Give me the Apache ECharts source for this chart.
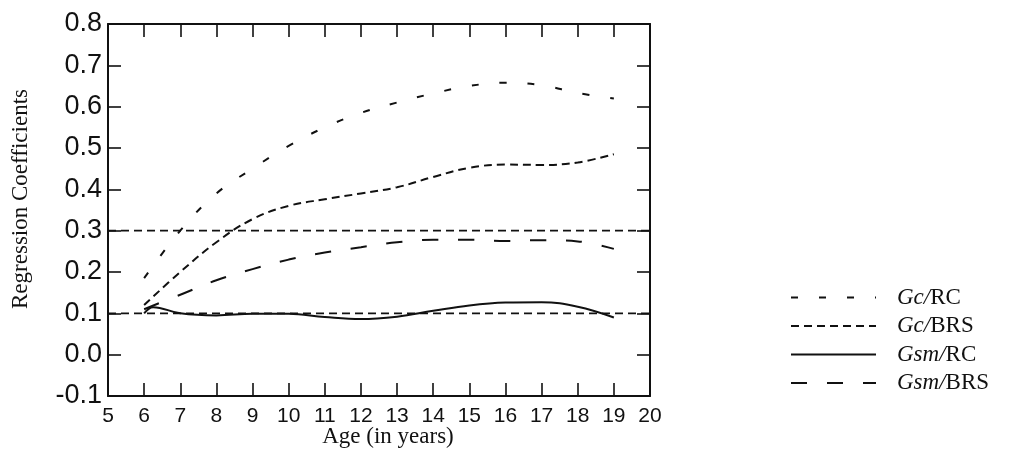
<!DOCTYPE html>
<html>
<head>
<meta charset="utf-8">
<script src="https://cdn.jsdelivr.net/npm/echarts@6/dist/echarts.min.js"></script>
<style>html,body{margin:0;padding:0;background:#fff;}#chart{width:1017px;height:452px;}</style>
</head>
<body>
<div id="chart"></div>
<script>
// ---- data ----
var ages = [6, 7, 8, 9, 10, 11, 12, 13, 14, 15, 16, 17, 18, 19];
var gcRC   = [0.185, 0.30, 0.39, 0.45, 0.505, 0.55, 0.585, 0.61, 0.632, 0.65, 0.658, 0.652, 0.633, 0.62];
var gcBRS  = [0.12, 0.20, 0.272, 0.328, 0.36, 0.376, 0.39, 0.405, 0.43, 0.452, 0.46, 0.459, 0.465, 0.485];
var gsmBRS = [0.11, 0.145, 0.18, 0.207, 0.23, 0.247, 0.26, 0.272, 0.278, 0.278, 0.275, 0.277, 0.274, 0.256];
var gsmRCAges = [6, 6.25, 7, 8, 9, 10, 11, 12, 13, 14, 15, 16, 17, 18, 19];
var gsmRC  = [0.10, 0.115, 0.10, 0.095, 0.099, 0.099, 0.091, 0.086, 0.092, 0.106, 0.119, 0.126, 0.127, 0.116, 0.09];
var refLevels = [0.3, 0.1];
var seriesNames = ['Gc/RC', 'Gc/BRS', 'Gsm/RC', 'Gsm/BRS'];
var xTicks = {min: 5, max: 20, step: 1};
var yTicks = {min: -0.1, max: 0.8, step: 0.1};

function pairs(xs, ys) { return xs.map(function (x, i) { return [x, ys[i]]; }); }

var ink = '#111';
var lw = 2;
var chart = echarts.init(document.getElementById('chart'));

function lineSeries(name, data, dash, xs) {
  return {
    name: name, type: 'line', data: pairs(xs || ages, data),
    smooth: 0.4, symbol: 'none', showSymbol: false,
    lineStyle: {color: ink, width: lw, type: dash, cap: 'butt'},
    itemStyle: {color: ink}, z: 3
  };
}

var series = [
  lineSeries('Gc/RC', gcRC, [7, 21]),
  lineSeries('Gc/BRS', gcBRS, [8, 5]),
  lineSeries('Gsm/RC', gsmRC, 'solid', gsmRCAges),
  lineSeries('Gsm/BRS', gsmBRS, [16, 20])
];
refLevels.forEach(function (v, i) {
  series.push({
    name: 'ref' + i, type: 'line', data: [[xTicks.min, v], [xTicks.max, v]],
    symbol: 'none', silent: true,
    lineStyle: {color: ink, width: 1.7, type: [8, 5]}, z: 2
  });
});

var tickStyle = {inside: true, length: 13, lineStyle: {color: ink, width: 1.6}};
var lineStyleAx = {show: true, onZero: false, lineStyle: {color: ink, width: 2}};

chart.setOption({
  animation: false,
  backgroundColor: '#fff',
  grid: {left: 108, right: 367, top: 24, bottom: 56, containLabel: false, outerBoundsMode: 'none'},
  legend: {
    data: seriesNames,
    orient: 'vertical', left: 785, top: 281,
    itemWidth: 85, itemHeight: 22, itemGap: 5.5,
    itemStyle: {opacity: 0},
    lineStyle: {width: 2},
    textStyle: {
      fontFamily: 'Liberation Serif', fontSize: 22, color: ink, padding: [0, 0, 0, 16],
      rich: {
        it: {fontFamily: 'Liberation Serif', fontSize: 23, fontStyle: 'italic', color: ink},
        up: {fontFamily: 'Liberation Serif', fontSize: 23, color: ink}
      }
    },
    formatter: function (n) {
      var p = n.split('/');
      return '{it|' + p[0] + '/}{up|' + p[1] + '}';
    },
    selectedMode: false
  },
  xAxis: [{
    type: 'value', min: xTicks.min, max: xTicks.max, interval: xTicks.step,
    name: 'Age (in years)', nameLocation: 'middle', nameGap: 29, nameMoveOverlap: false,
    nameTextStyle: {fontFamily: 'Liberation Serif', fontSize: 23, color: ink, padding: [0, 0, 0, 18]},
    axisLine: lineStyleAx, axisTick: tickStyle, splitLine: {show: false},
    axisLabel: {fontFamily: 'Liberation Sans', fontSize: 21, color: ink, margin: 10}
  }, {
    type: 'value', position: 'top', min: xTicks.min, max: xTicks.max, interval: xTicks.step,
    axisLine: lineStyleAx, axisTick: tickStyle, splitLine: {show: false}, axisLabel: {show: false}
  }],
  yAxis: [{
    type: 'value', min: yTicks.min, max: yTicks.max, interval: yTicks.step,
    name: 'Regression Coefficients', nameLocation: 'middle', nameGap: 76, nameMoveOverlap: false,
    nameTextStyle: {fontFamily: 'Liberation Serif', fontSize: 23, color: ink, padding: [0, 0, 0, 22]},
    axisLine: lineStyleAx, axisTick: tickStyle, splitLine: {show: false},
    axisLabel: {fontFamily: 'Liberation Sans', fontSize: 27, color: ink, margin: 6,
      formatter: function (v) { return v.toFixed(1); }}
  }, {
    type: 'value', position: 'right', min: yTicks.min, max: yTicks.max, interval: yTicks.step,
    axisLine: lineStyleAx, axisTick: tickStyle, splitLine: {show: false}, axisLabel: {show: false}
  }],
  series: series
});
</script>
</body>
</html>
